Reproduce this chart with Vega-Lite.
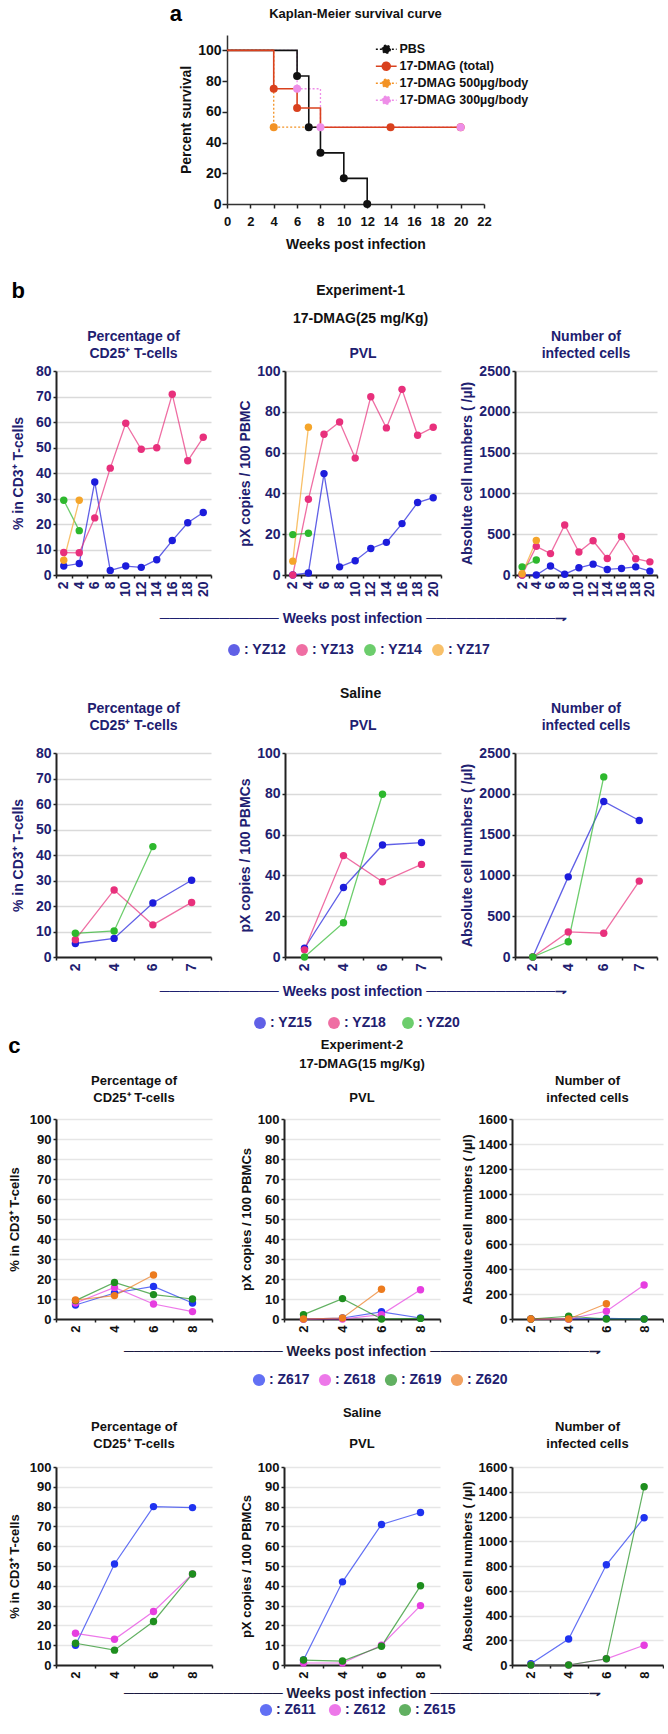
{
"$schema": "https://vega.github.io/schema/vega-lite/v6.json",
"background": "white",
"padding": {"left": 8, "top": 3, "right": 0, "bottom": 0},
"spacing": 29,
"resolve": {"scale": {"color": "independent"}, "legend": {"color": "independent"}},
"datasets": {
"km_l": [
{"g":"17-DMAG 300µg/body","t":0,"s":100},{"g":"17-DMAG 300µg/body","t":6,"s":75},{"g":"17-DMAG 300µg/body","t":8,"s":50},{"g":"17-DMAG 300µg/body","t":20,"s":50},
{"g":"17-DMAG 500µg/body","t":0,"s":100},{"g":"17-DMAG 500µg/body","t":4,"s":50},{"g":"17-DMAG 500µg/body","t":8,"s":50},
{"g":"PBS","t":0,"s":100},{"g":"PBS","t":6,"s":83.3},{"g":"PBS","t":7,"s":50},{"g":"PBS","t":8,"s":33.3},{"g":"PBS","t":10,"s":16.7},{"g":"PBS","t":12,"s":0},
{"g":"17-DMAG (total)","t":0,"s":100},{"g":"17-DMAG (total)","t":4,"s":75},{"g":"17-DMAG (total)","t":6,"s":62.5},{"g":"17-DMAG (total)","t":8,"s":50},{"g":"17-DMAG (total)","t":20,"s":50}
],
"km_p": [
{"g":"PBS","t":6,"s":83.3},{"g":"PBS","t":7,"s":50},{"g":"PBS","t":8,"s":33.3},{"g":"PBS","t":10,"s":16.7},{"g":"PBS","t":12,"s":0},
{"g":"17-DMAG (total)","t":4,"s":75},{"g":"17-DMAG (total)","t":6,"s":62.5},{"g":"17-DMAG (total)","t":14,"s":50},{"g":"17-DMAG (total)","t":20,"s":50},
{"g":"17-DMAG 500µg/body","t":4,"s":50},
{"g":"17-DMAG 300µg/body","t":6,"s":75},{"g":"17-DMAG 300µg/body","t":8,"s":50},{"g":"17-DMAG 300µg/body","t":20,"s":50}
],
"b1": [
{"m":"cd25","id":"YZ12","wk":2,"v":3.5},{"m":"cd25","id":"YZ12","wk":4,"v":4.5},{"m":"cd25","id":"YZ12","wk":6,"v":36.5},{"m":"cd25","id":"YZ12","wk":8,"v":1.8},{"m":"cd25","id":"YZ12","wk":10,"v":3.5},{"m":"cd25","id":"YZ12","wk":12,"v":3},{"m":"cd25","id":"YZ12","wk":14,"v":6},{"m":"cd25","id":"YZ12","wk":16,"v":13.5},{"m":"cd25","id":"YZ12","wk":18,"v":20.5},{"m":"cd25","id":"YZ12","wk":20,"v":24.5},
{"m":"cd25","id":"YZ13","wk":2,"v":8.8},{"m":"cd25","id":"YZ13","wk":4,"v":8.7},{"m":"cd25","id":"YZ13","wk":6,"v":22.4},{"m":"cd25","id":"YZ13","wk":8,"v":41.9},{"m":"cd25","id":"YZ13","wk":10,"v":59.5},{"m":"cd25","id":"YZ13","wk":12,"v":49.3},{"m":"cd25","id":"YZ13","wk":14,"v":49.9},{"m":"cd25","id":"YZ13","wk":16,"v":70.9},{"m":"cd25","id":"YZ13","wk":18,"v":44.8},{"m":"cd25","id":"YZ13","wk":20,"v":54},
{"m":"cd25","id":"YZ14","wk":2,"v":29.3},{"m":"cd25","id":"YZ14","wk":4,"v":17.4},
{"m":"cd25","id":"YZ17","wk":2,"v":5.8},{"m":"cd25","id":"YZ17","wk":4,"v":29.3},
{"m":"pvl","id":"YZ12","wk":2,"v":0},{"m":"pvl","id":"YZ12","wk":4,"v":1},{"m":"pvl","id":"YZ12","wk":6,"v":49.7},{"m":"pvl","id":"YZ12","wk":8,"v":4},{"m":"pvl","id":"YZ12","wk":10,"v":7},{"m":"pvl","id":"YZ12","wk":12,"v":13},{"m":"pvl","id":"YZ12","wk":14,"v":16},{"m":"pvl","id":"YZ12","wk":16,"v":25.2},{"m":"pvl","id":"YZ12","wk":18,"v":35.5},{"m":"pvl","id":"YZ12","wk":20,"v":37.9},
{"m":"pvl","id":"YZ13","wk":2,"v":0},{"m":"pvl","id":"YZ13","wk":4,"v":37.1},{"m":"pvl","id":"YZ13","wk":6,"v":69},{"m":"pvl","id":"YZ13","wk":8,"v":75},{"m":"pvl","id":"YZ13","wk":10,"v":57.3},{"m":"pvl","id":"YZ13","wk":12,"v":87.4},{"m":"pvl","id":"YZ13","wk":14,"v":72.1},{"m":"pvl","id":"YZ13","wk":16,"v":91},{"m":"pvl","id":"YZ13","wk":18,"v":68.5},{"m":"pvl","id":"YZ13","wk":20,"v":72.4},
{"m":"pvl","id":"YZ14","wk":2,"v":19.8},{"m":"pvl","id":"YZ14","wk":4,"v":20.5},
{"m":"pvl","id":"YZ17","wk":2,"v":6.8},{"m":"pvl","id":"YZ17","wk":4,"v":72.4},
{"m":"inf","id":"YZ12","wk":2,"v":0},{"m":"inf","id":"YZ12","wk":4,"v":0},{"m":"inf","id":"YZ12","wk":6,"v":110},{"m":"inf","id":"YZ12","wk":8,"v":10},{"m":"inf","id":"YZ12","wk":10,"v":88},{"m":"inf","id":"YZ12","wk":12,"v":133},{"m":"inf","id":"YZ12","wk":14,"v":68},{"m":"inf","id":"YZ12","wk":16,"v":80},{"m":"inf","id":"YZ12","wk":18,"v":100},{"m":"inf","id":"YZ12","wk":20,"v":48},
{"m":"inf","id":"YZ13","wk":2,"v":0},{"m":"inf","id":"YZ13","wk":4,"v":351},{"m":"inf","id":"YZ13","wk":6,"v":262},{"m":"inf","id":"YZ13","wk":8,"v":613},{"m":"inf","id":"YZ13","wk":10,"v":282},{"m":"inf","id":"YZ13","wk":12,"v":420},{"m":"inf","id":"YZ13","wk":14,"v":202},{"m":"inf","id":"YZ13","wk":16,"v":472},{"m":"inf","id":"YZ13","wk":18,"v":200},{"m":"inf","id":"YZ13","wk":20,"v":161},
{"m":"inf","id":"YZ14","wk":2,"v":100},{"m":"inf","id":"YZ14","wk":4,"v":183},
{"m":"inf","id":"YZ17","wk":2,"v":15},{"m":"inf","id":"YZ17","wk":4,"v":424}
],
"b2": [
{"m":"cd25","id":"YZ15","wk":2,"v":5.3},{"m":"cd25","id":"YZ15","wk":4,"v":7.3},{"m":"cd25","id":"YZ15","wk":6,"v":21.2},{"m":"cd25","id":"YZ15","wk":7,"v":30.1},
{"m":"cd25","id":"YZ18","wk":2,"v":6.8},{"m":"cd25","id":"YZ18","wk":4,"v":26.3},{"m":"cd25","id":"YZ18","wk":6,"v":12.6},{"m":"cd25","id":"YZ18","wk":7,"v":21.4},
{"m":"cd25","id":"YZ20","wk":2,"v":9.3},{"m":"cd25","id":"YZ20","wk":4,"v":10.2},{"m":"cd25","id":"YZ20","wk":6,"v":43.3},
{"m":"pvl","id":"YZ15","wk":2,"v":4.3},{"m":"pvl","id":"YZ15","wk":4,"v":34.1},{"m":"pvl","id":"YZ15","wk":6,"v":54.9},{"m":"pvl","id":"YZ15","wk":7,"v":56.1},
{"m":"pvl","id":"YZ18","wk":2,"v":3.5},{"m":"pvl","id":"YZ18","wk":4,"v":49.7},{"m":"pvl","id":"YZ18","wk":6,"v":36.9},{"m":"pvl","id":"YZ18","wk":7,"v":45.4},
{"m":"pvl","id":"YZ20","wk":2,"v":0},{"m":"pvl","id":"YZ20","wk":4,"v":16.8},{"m":"pvl","id":"YZ20","wk":6,"v":79.8},
{"m":"inf","id":"YZ15","wk":2,"v":0},{"m":"inf","id":"YZ15","wk":4,"v":982},{"m":"inf","id":"YZ15","wk":6,"v":1906},{"m":"inf","id":"YZ15","wk":7,"v":1673},
{"m":"inf","id":"YZ18","wk":2,"v":0},{"m":"inf","id":"YZ18","wk":4,"v":307},{"m":"inf","id":"YZ18","wk":6,"v":291},{"m":"inf","id":"YZ18","wk":7,"v":930},
{"m":"inf","id":"YZ20","wk":2,"v":0},{"m":"inf","id":"YZ20","wk":4,"v":187},{"m":"inf","id":"YZ20","wk":6,"v":2207}
],
"c1": [
{"m":"cd25","id":"Z617","wk":2,"v":7},{"m":"cd25","id":"Z617","wk":4,"v":13},{"m":"cd25","id":"Z617","wk":6,"v":16.3},{"m":"cd25","id":"Z617","wk":8,"v":8},
{"m":"cd25","id":"Z618","wk":2,"v":8},{"m":"cd25","id":"Z618","wk":4,"v":15.8},{"m":"cd25","id":"Z618","wk":6,"v":7.5},{"m":"cd25","id":"Z618","wk":8,"v":3.7},
{"m":"cd25","id":"Z619","wk":2,"v":9.2},{"m":"cd25","id":"Z619","wk":4,"v":18.3},{"m":"cd25","id":"Z619","wk":6,"v":12.2},{"m":"cd25","id":"Z619","wk":8,"v":10},
{"m":"cd25","id":"Z620","wk":2,"v":9.5},{"m":"cd25","id":"Z620","wk":4,"v":11.7},{"m":"cd25","id":"Z620","wk":6,"v":22},
{"m":"pvl","id":"Z617","wk":2,"v":0},{"m":"pvl","id":"Z617","wk":4,"v":0.5},{"m":"pvl","id":"Z617","wk":6,"v":3.6},{"m":"pvl","id":"Z617","wk":8,"v":0.5},
{"m":"pvl","id":"Z618","wk":2,"v":0},{"m":"pvl","id":"Z618","wk":4,"v":0},{"m":"pvl","id":"Z618","wk":6,"v":2.2},{"m":"pvl","id":"Z618","wk":8,"v":14.6},
{"m":"pvl","id":"Z619","wk":2,"v":2.2},{"m":"pvl","id":"Z619","wk":4,"v":10.2},{"m":"pvl","id":"Z619","wk":6,"v":0},{"m":"pvl","id":"Z619","wk":8,"v":0.3},
{"m":"pvl","id":"Z620","wk":2,"v":0},{"m":"pvl","id":"Z620","wk":4,"v":0.5},{"m":"pvl","id":"Z620","wk":6,"v":14.9},
{"m":"inf","id":"Z617","wk":2,"v":0},{"m":"inf","id":"Z617","wk":4,"v":0},{"m":"inf","id":"Z617","wk":6,"v":5},{"m":"inf","id":"Z617","wk":8,"v":0},
{"m":"inf","id":"Z618","wk":2,"v":0},{"m":"inf","id":"Z618","wk":4,"v":0},{"m":"inf","id":"Z618","wk":6,"v":62},{"m":"inf","id":"Z618","wk":8,"v":272},
{"m":"inf","id":"Z619","wk":2,"v":0},{"m":"inf","id":"Z619","wk":4,"v":22},{"m":"inf","id":"Z619","wk":6,"v":0},{"m":"inf","id":"Z619","wk":8,"v":0},
{"m":"inf","id":"Z620","wk":2,"v":0},{"m":"inf","id":"Z620","wk":4,"v":0},{"m":"inf","id":"Z620","wk":6,"v":122}
],
"c2": [
{"m":"cd25","id":"Z611","wk":2,"v":10},{"m":"cd25","id":"Z611","wk":4,"v":51},{"m":"cd25","id":"Z611","wk":6,"v":80},{"m":"cd25","id":"Z611","wk":8,"v":79.5},
{"m":"cd25","id":"Z612","wk":2,"v":16},{"m":"cd25","id":"Z612","wk":4,"v":13},{"m":"cd25","id":"Z612","wk":6,"v":27},{"m":"cd25","id":"Z612","wk":8,"v":46},
{"m":"cd25","id":"Z615","wk":2,"v":11},{"m":"cd25","id":"Z615","wk":4,"v":7.5},{"m":"cd25","id":"Z615","wk":6,"v":22},{"m":"cd25","id":"Z615","wk":8,"v":46},
{"m":"pvl","id":"Z611","wk":2,"v":2.5},{"m":"pvl","id":"Z611","wk":4,"v":42},{"m":"pvl","id":"Z611","wk":6,"v":71},{"m":"pvl","id":"Z611","wk":8,"v":77},
{"m":"pvl","id":"Z612","wk":2,"v":1},{"m":"pvl","id":"Z612","wk":4,"v":1},{"m":"pvl","id":"Z612","wk":6,"v":10},{"m":"pvl","id":"Z612","wk":8,"v":30},
{"m":"pvl","id":"Z615","wk":2,"v":2.5},{"m":"pvl","id":"Z615","wk":4,"v":2},{"m":"pvl","id":"Z615","wk":6,"v":9.5},{"m":"pvl","id":"Z615","wk":8,"v":40},
{"m":"inf","id":"Z611","wk":2,"v":10},{"m":"inf","id":"Z611","wk":4,"v":210},{"m":"inf","id":"Z611","wk":6,"v":810},{"m":"inf","id":"Z611","wk":8,"v":1190},
{"m":"inf","id":"Z612","wk":2,"v":0},{"m":"inf","id":"Z612","wk":4,"v":0},{"m":"inf","id":"Z612","wk":6,"v":50},{"m":"inf","id":"Z612","wk":8,"v":160},
{"m":"inf","id":"Z615","wk":2,"v":0},{"m":"inf","id":"Z615","wk":4,"v":0},{"m":"inf","id":"Z615","wk":6,"v":50},{"m":"inf","id":"Z615","wk":8,"v":1440}
]
},
"vconcat": [
{
"spacing": 0,
"resolve": {"scale": {"color": "independent"}, "legend": {"color": "independent"}},
"hconcat": [
{"width": 113, "height": 10, "view": {"fill": "white", "stroke": null}, "data": {"values": []}, "mark": "point"},
{
"title": {"text": "a", "anchor": "start", "frame": "bounds", "fontSize": 22, "color": "#000000", "offset": -18, "dx": -10},
"resolve": {"scale": {"color": "independent"}, "legend": {"color": "independent"}},
"vconcat": [
{
"width": 257, "height": 169,
"title": {"text": "Kaplan-Meier survival curve", "color": "#111111", "fontSize": 13, "offset": 14, "frame": "group", "anchor": "middle"},
"encoding": {
"x": {"field": "t", "type": "quantitative", "scale": {"domain": [0, 22], "nice": false},
 "axis": {"title": "Weeks post infection", "values": [0,2,4,6,8,10,12,14,16,18,20,22], "labelAngle": 0, "labelFlush": false, "labelOverlap": false, "labelColor": "#111111", "titleColor": "#111111", "labelFontSize": 13, "titleFontSize": 14, "tickSize": 4, "labelPadding": 7, "titlePadding": 9, "grid": false, "domainWidth": 1.5, "domainColor": "#333333"}},
"y": {"field": "s", "type": "quantitative", "scale": {"domain": [0, 110], "nice": false},
 "axis": {"title": "Percent survival", "values": [0,20,40,60,80,100], "labelOverlap": false, "grid": false, "labelColor": "#111111", "titleColor": "#111111", "labelFontSize": 14, "titleFontSize": 14, "tickSize": 5, "labelPadding": 1, "titlePadding": 4, "domainWidth": 1.5, "domainColor": "#333333"}},
"color": {"field": "g", "type": "nominal", "scale": {"domain": ["PBS", "17-DMAG (total)", "17-DMAG 500µg/body", "17-DMAG 300µg/body"], "range": ["#111111", "#d9411e", "#f39224", "#ee8ee8"]},
 "legend": {"orient": "none", "legendX": 153, "legendY": 8, "title": null, "direction": "vertical",
  "symbolType": "M-2.6,0H2.6M1,0A1,1 0 1 1 -1,0A1,1 0 1 1 1,0", "symbolSize": 64, "labelOffset": 7, "rowPadding": 2,
  "labelFontSize": 12.5, "labelFontWeight": "bold", "labelColor": "#111111", "labelFont": "Liberation Sans",
  "encode": {
   "symbols": {"update": {
   "fill": [{"test": "datum.value === 'PBS'", "value": "#111111"}, {"test": "datum.value === '17-DMAG (total)'", "value": "#d9411e"}, {"test": "datum.value === '17-DMAG 500µg/body'", "value": "#f39224"}, {"value": "#ee8ee8"}],
   "stroke": [{"test": "datum.value === 'PBS'", "value": "#666666"}, {"test": "datum.value === '17-DMAG (total)'", "value": "#d9411e"}, {"test": "datum.value === '17-DMAG 500µg/body'", "value": "#f39224"}, {"value": "#ee8ee8"}],
   "strokeWidth": {"value": 1.5},
   "opacity": {"value": 1}, "fillOpacity": {"value": 1}, "strokeOpacity": {"value": 1},
   "strokeDash": [{"test": "datum.value === '17-DMAG (total)'", "value": [1,0]}, {"value": [2,2]}]
  }}}}}
},
"layer": [
{
"data": {"name": "km_l"},
"transform": [{"filter": "datum.g === '17-DMAG 300µg/body' || datum.g === '17-DMAG 500µg/body'"}],
"mark": {"type": "line", "interpolate": "step-after", "strokeWidth": 1.3, "strokeDash": [2, 2]}
},
{
"data": {"name": "km_l"},
"transform": [{"filter": "datum.g === 'PBS' || datum.g === '17-DMAG (total)'"}],
"mark": {"type": "line", "interpolate": "step-after", "strokeWidth": 1.6}
},
{
"data": {"name": "km_p"},
"mark": {"type": "circle", "size": 64, "opacity": 1}
}
]
}
]
}
]
},
{
"spacing": 5,
"vconcat": [
{
"title": {"text": "b", "anchor": "start", "frame": "bounds", "fontSize": 22, "color": "#000000", "offset": -19},
"spacing": 30,
"vconcat": [
{
"title": {"text": "Experiment-1", "subtitle": "17-DMAG(25 mg/Kg)", "color": "#111111", "fontSize": 14, "subtitleColor": "#111111", "subtitleFontSize": 14, "subtitleFontWeight": "bold", "subtitlePadding": 14, "frame": "bounds", "anchor": "middle", "offset": 4, "dx": 26},
"spacing": 74, "bounds": "flush",
"resolve": {"scale": {"color": "independent"}, "legend": {"color": "independent"}},
"hconcat": [
{
"width": 155, "height": 204,
"title": {"text": ["Percentage of", "CD25⁺ T-cells"], "offset": 3, "frame": "group"},
"data": {"name": "b1"},
"transform": [{"filter": "datum.m === 'cd25'"}],
"encoding": {
"x": {"field": "wk", "type": "ordinal", "scale": {"type": "band", "paddingInner": 0, "paddingOuter": 0, "domain": [2,4,6,8,10,12,14,16,18,20]}, "axis": {"title": null, "labelAngle": 270, "tickBand": "extent", "grid": false}},
"y": {"field": "v", "type": "quantitative", "scale": {"domain": [0, 80], "nice": false}, "axis": {"title": "% in CD3⁺ T-cells", "values": [0,10,20,30,40,50,60,70,80], "titlePadding": 10}},
"color": {"field": "id", "type": "nominal", "scale": {"domain": ["YZ12","YZ13","YZ14","YZ17"], "range": ["#1c1cdc","#e8307c","#2db82d","#f5a52a"]}, "legend": null}
},
"layer": [
{"mark": {"type": "line", "strokeWidth": 1.3, "opacity": 0.7}},
{"mark": {"type": "circle", "size": 55, "opacity": 1}}
]
},
{
"width": 156, "height": 204,
"title": {"text": "PVL", "offset": 3, "frame": "group"},
"data": {"name": "b1"},
"transform": [{"filter": "datum.m === 'pvl'"}],
"encoding": {
"x": {"field": "wk", "type": "ordinal", "scale": {"type": "band", "paddingInner": 0, "paddingOuter": 0, "domain": [2,4,6,8,10,12,14,16,18,20]}, "axis": {"title": "────────────  Weeks post infection  ─────────────⇁", "titlePadding": 15, "labelAngle": 270, "tickBand": "extent", "grid": false}},
"y": {"field": "v", "type": "quantitative", "scale": {"domain": [0, 100], "nice": false}, "axis": {"title": "pX copies / 100 PBMC", "values": [0,20,40,60,80,100], "titlePadding": 4}},
"color": {"field": "id", "type": "nominal", "scale": {"domain": ["YZ12","YZ13","YZ14","YZ17"], "range": ["#1c1cdc","#e8307c","#2db82d","#f5a52a"]},
 "legend": {"orient": "none", "legendX": -58, "legendY": 272, "direction": "horizontal", "title": null, "symbolType": "circle", "symbolSize": 140, "symbolStrokeWidth": 0, "labelExpr": "': ' + datum.label", "labelFontSize": 14, "labelFontWeight": "bold", "labelColor": "#1e2070", "labelFont": "Liberation Sans", "columnPadding": 8, "labelOffset": 3,
  "encode": {"symbols": {"update": {"fill": [{"test": "datum.value === 'YZ12'", "value": "#1010e0"}, {"test": "datum.value === 'YZ13'", "value": "#e040d8"}, {"test": "datum.value === 'YZ14'", "value": "#1a8a1a"}, {"value": "#e87a14"}], "stroke": {"value": "transparent"}, "opacity": {"value": 1}, "fillOpacity": {"value": 1}}}}}}
},
"layer": [
{"mark": {"type": "line", "strokeWidth": 1.3, "opacity": 0.7}},
{"mark": {"type": "circle", "size": 55, "opacity": 1}}
]
},
{
"width": 142, "height": 204,
"title": {"text": ["Number of", "infected cells"], "offset": 3, "frame": "group"},
"data": {"name": "b1"},
"transform": [{"filter": "datum.m === 'inf'"}],
"encoding": {
"x": {"field": "wk", "type": "ordinal", "scale": {"type": "band", "paddingInner": 0, "paddingOuter": 0, "domain": [2,4,6,8,10,12,14,16,18,20]}, "axis": {"title": null, "labelAngle": 270, "tickBand": "extent", "grid": false}},
"y": {"field": "v", "type": "quantitative", "scale": {"domain": [0, 2500], "nice": false}, "axis": {"title": "Absolute cell numbers ( /µl)", "values": [0,500,1000,1500,2000,2500], "format": "d", "titlePadding": 4}},
"color": {"field": "id", "type": "nominal", "scale": {"domain": ["YZ12","YZ13","YZ14","YZ17"], "range": ["#1c1cdc","#e8307c","#2db82d","#f5a52a"]}, "legend": null}
},
"layer": [
{"mark": {"type": "line", "strokeWidth": 1.3, "opacity": 0.7}},
{"mark": {"type": "circle", "size": 55, "opacity": 1}}
]
}
]
},
{
"title": {"text": "Saline", "color": "#111111", "fontSize": 14, "frame": "bounds", "anchor": "middle", "offset": 1, "dx": 26},
"spacing": 74, "bounds": "flush",
"resolve": {"scale": {"color": "independent"}, "legend": {"color": "independent"}},
"hconcat": [
{
"width": 155, "height": 204,
"title": {"text": ["Percentage of", "CD25⁺ T-cells"], "offset": 13, "frame": "group"},
"data": {"name": "b2"},
"transform": [{"filter": "datum.m === 'cd25'"}],
"encoding": {
"x": {"field": "wk", "type": "ordinal", "scale": {"type": "band", "paddingInner": 0, "paddingOuter": 0, "domain": [2,4,6,7]}, "axis": {"title": null, "labelAngle": 270, "tickBand": "extent", "grid": false}},
"y": {"field": "v", "type": "quantitative", "scale": {"domain": [0, 80], "nice": false}, "axis": {"title": "% in CD3⁺ T-cells", "values": [0,10,20,30,40,50,60,70,80], "titlePadding": 10}},
"color": {"field": "id", "type": "nominal", "scale": {"domain": ["YZ15","YZ18","YZ20"], "range": ["#1c1cdc","#e8307c","#2db82d"]}, "legend": null}
},
"layer": [
{"mark": {"type": "line", "strokeWidth": 1.3, "opacity": 0.7}},
{"mark": {"type": "circle", "size": 55, "opacity": 1}}
]
},
{
"width": 156, "height": 204,
"title": {"text": "PVL", "offset": 13, "frame": "group"},
"data": {"name": "b2"},
"transform": [{"filter": "datum.m === 'pvl'"}],
"encoding": {
"x": {"field": "wk", "type": "ordinal", "scale": {"type": "band", "paddingInner": 0, "paddingOuter": 0, "domain": [2,4,6,7]}, "axis": {"title": "────────────  Weeks post infection  ─────────────⇁", "titlePadding": 14, "labelAngle": 270, "tickBand": "extent", "grid": false}},
"y": {"field": "v", "type": "quantitative", "scale": {"domain": [0, 100], "nice": false}, "axis": {"title": "pX copies / 100 PBMCs", "values": [0,20,40,60,80,100], "titlePadding": 4}},
"color": {"field": "id", "type": "nominal", "scale": {"domain": ["YZ15","YZ18","YZ20"], "range": ["#1c1cdc","#e8307c","#2db82d"]},
 "legend": {"orient": "none", "legendX": -32, "legendY": 263, "direction": "horizontal", "title": null, "symbolType": "circle", "symbolSize": 140, "symbolStrokeWidth": 0, "labelExpr": "': ' + datum.label", "labelFontSize": 14, "labelFontWeight": "bold", "labelColor": "#1e2070", "labelFont": "Liberation Sans", "columnPadding": 14, "labelOffset": 3,
  "encode": {"symbols": {"update": {"fill": [{"test": "datum.value === 'YZ15'", "value": "#1010e0"}, {"test": "datum.value === 'YZ18'", "value": "#e040d8"}, {"value": "#1a8a1a"}], "stroke": {"value": "transparent"}, "opacity": {"value": 1}, "fillOpacity": {"value": 1}}}}}}
},
"layer": [
{"mark": {"type": "line", "strokeWidth": 1.3, "opacity": 0.7}},
{"mark": {"type": "circle", "size": 55, "opacity": 1}}
]
},
{
"width": 142, "height": 204,
"title": {"text": ["Number of", "infected cells"], "offset": 13, "frame": "group"},
"data": {"name": "b2"},
"transform": [{"filter": "datum.m === 'inf'"}],
"encoding": {
"x": {"field": "wk", "type": "ordinal", "scale": {"type": "band", "paddingInner": 0, "paddingOuter": 0, "domain": [2,4,6,7]}, "axis": {"title": null, "labelAngle": 270, "tickBand": "extent", "grid": false}},
"y": {"field": "v", "type": "quantitative", "scale": {"domain": [0, 2500], "nice": false}, "axis": {"title": "Absolute cell numbers ( /µl)", "values": [0,500,1000,1500,2000,2500], "format": "d", "titlePadding": 4}},
"color": {"field": "id", "type": "nominal", "scale": {"domain": ["YZ15","YZ18","YZ20"], "range": ["#1c1cdc","#e8307c","#2db82d"]}, "legend": null}
},
"layer": [
{"mark": {"type": "line", "strokeWidth": 1.3, "opacity": 0.7}},
{"mark": {"type": "circle", "size": 55, "opacity": 1}}
]
}
]
}
]
},
{
"title": {"text": "c", "anchor": "start", "frame": "bounds", "fontSize": 22, "color": "#000000", "offset": -19},
"spacing": 20,
"vconcat": [
{
"title": {"text": "Experiment-2", "subtitle": "17-DMAG(15 mg/Kg)", "color": "#111111", "fontSize": 13, "subtitleColor": "#111111", "subtitleFontSize": 13, "subtitleFontWeight": "bold", "subtitlePadding": 6, "frame": "bounds", "anchor": "middle", "offset": 4, "dx": 26},
"spacing": 72, "bounds": "flush",
"resolve": {"scale": {"color": "independent"}, "legend": {"color": "independent"}},
"hconcat": [
{
"width": 156, "height": 200,
"title": {"text": ["Percentage of", "CD25⁺ T-cells"], "offset": 8, "color": "#111111", "fontSize": 13, "frame": "group"},
"data": {"name": "c1"},
"transform": [{"filter": "datum.m === 'cd25'"}],
"encoding": {
"x": {"field": "wk", "type": "ordinal", "scale": {"type": "band", "paddingInner": 0, "paddingOuter": 0, "domain": [2,4,6,8]}, "axis": {"title": null, "labelAngle": 270, "tickBand": "extent", "grid": false, "labelColor": "#111111", "labelFontSize": 13}},
"y": {"field": "v", "type": "quantitative", "scale": {"domain": [0, 100], "nice": false}, "axis": {"title": "% in CD3⁺ T-cells", "values": [0,10,20,30,40,50,60,70,80,90,100], "titlePadding": 8, "labelColor": "#111111", "titleColor": "#111111", "labelFontSize": 13, "titleFontSize": 13, "gridColor": "#e6e6e6"}},
"color": {"field": "id", "type": "nominal", "scale": {"domain": ["Z617","Z618","Z619","Z620"], "range": ["#1f33f0","#e63ee0","#1e8e1e","#ec7b1e"]}, "legend": null}
},
"layer": [
{"mark": {"type": "line", "strokeWidth": 1.2, "opacity": 0.7}},
{"mark": {"type": "circle", "size": 55, "opacity": 1}}
]
},
{
"width": 156, "height": 200,
"title": {"text": "PVL", "offset": 8, "color": "#111111", "fontSize": 13, "frame": "group"},
"data": {"name": "c1"},
"transform": [{"filter": "datum.m === 'pvl'"}],
"encoding": {
"x": {"field": "wk", "type": "ordinal", "scale": {"type": "band", "paddingInner": 0, "paddingOuter": 0, "domain": [2,4,6,8]}, "axis": {"title": "────────────────  Weeks post infection  ────────────────⇁", "titlePadding": 12, "titleColor": "#1a1a40", "labelAngle": 270, "tickBand": "extent", "grid": false, "labelColor": "#111111", "labelFontSize": 13}},
"y": {"field": "v", "type": "quantitative", "scale": {"domain": [0, 100], "nice": false}, "axis": {"title": "pX copies / 100 PBMCs", "values": [0,10,20,30,40,50,60,70,80,90,100], "titlePadding": 4, "labelColor": "#111111", "titleColor": "#111111", "labelFontSize": 13, "titleFontSize": 13, "gridColor": "#e6e6e6"}},
"color": {"field": "id", "type": "nominal", "scale": {"domain": ["Z617","Z618","Z619","Z620"], "range": ["#1f33f0","#e63ee0","#1e8e1e","#ec7b1e"]},
 "legend": {"orient": "none", "legendX": -32, "legendY": 254, "direction": "horizontal", "title": null, "symbolType": "circle", "symbolSize": 150, "symbolStrokeWidth": 0, "labelExpr": "': ' + datum.label", "labelFontSize": 14, "labelFontWeight": "bold", "labelColor": "#1e2070", "labelFont": "Liberation Sans", "columnPadding": 8, "labelOffset": 3,
  "encode": {"symbols": {"update": {"fill": [{"test": "datum.value === 'Z617'", "value": "#1f33f0"}, {"test": "datum.value === 'Z618'", "value": "#e63ee0"}, {"test": "datum.value === 'Z619'", "value": "#1e8e1e"}, {"value": "#ec7b1e"}], "stroke": {"value": "transparent"}, "opacity": {"value": 1}, "fillOpacity": {"value": 1}}}}}}
},
"layer": [
{"mark": {"type": "line", "strokeWidth": 1.2, "opacity": 0.7}},
{"mark": {"type": "circle", "size": 55, "opacity": 1}}
]
},
{
"width": 151, "height": 200,
"title": {"text": ["Number of", "infected cells"], "offset": 8, "color": "#111111", "fontSize": 13, "frame": "group"},
"data": {"name": "c1"},
"transform": [{"filter": "datum.m === 'inf'"}],
"encoding": {
"x": {"field": "wk", "type": "ordinal", "scale": {"type": "band", "paddingInner": 0, "paddingOuter": 0, "domain": [2,4,6,8]}, "axis": {"title": null, "labelAngle": 270, "tickBand": "extent", "grid": false, "labelColor": "#111111", "labelFontSize": 13}},
"y": {"field": "v", "type": "quantitative", "scale": {"domain": [0, 1600], "nice": false}, "axis": {"title": "Absolute cell numbers ( /µl)", "values": [0,200,400,600,800,1000,1200,1400,1600], "format": "d", "titlePadding": 4, "labelColor": "#111111", "titleColor": "#111111", "labelFontSize": 13, "titleFontSize": 13, "gridColor": "#e6e6e6"}},
"color": {"field": "id", "type": "nominal", "scale": {"domain": ["Z617","Z618","Z619","Z620"], "range": ["#1f33f0","#e63ee0","#1e8e1e","#ec7b1e"]}, "legend": null}
},
"layer": [
{"mark": {"type": "line", "strokeWidth": 1.2, "opacity": 0.7}},
{"mark": {"type": "circle", "size": 55, "opacity": 1}}
]
}
]
},
{
"title": {"text": "Saline", "color": "#111111", "fontSize": 13, "frame": "bounds", "anchor": "middle", "offset": 1, "dx": 26},
"spacing": 72, "bounds": "flush",
"resolve": {"scale": {"color": "independent"}, "legend": {"color": "independent"}},
"hconcat": [
{
"width": 156, "height": 198,
"title": {"text": ["Percentage of", "CD25⁺ T-cells"], "offset": 10, "color": "#111111", "fontSize": 13, "frame": "group"},
"data": {"name": "c2"},
"transform": [{"filter": "datum.m === 'cd25'"}],
"encoding": {
"x": {"field": "wk", "type": "ordinal", "scale": {"type": "band", "paddingInner": 0, "paddingOuter": 0, "domain": [2,4,6,8]}, "axis": {"title": null, "labelAngle": 270, "tickBand": "extent", "grid": false, "labelColor": "#111111", "labelFontSize": 13}},
"y": {"field": "v", "type": "quantitative", "scale": {"domain": [0, 100], "nice": false}, "axis": {"title": "% in CD3⁺ T-cells", "values": [0,10,20,30,40,50,60,70,80,90,100], "titlePadding": 8, "labelColor": "#111111", "titleColor": "#111111", "labelFontSize": 13, "titleFontSize": 13, "gridColor": "#e6e6e6"}},
"color": {"field": "id", "type": "nominal", "scale": {"domain": ["Z611","Z612","Z615"], "range": ["#1f33f0","#e63ee0","#1e8e1e"]}, "legend": null}
},
"layer": [
{"mark": {"type": "line", "strokeWidth": 1.2, "opacity": 0.7}},
{"mark": {"type": "circle", "size": 55, "opacity": 1}}
]
},
{
"width": 156, "height": 198,
"title": {"text": "PVL", "offset": 10, "color": "#111111", "fontSize": 13, "frame": "group"},
"data": {"name": "c2"},
"transform": [{"filter": "datum.m === 'pvl'"}],
"encoding": {
"x": {"field": "wk", "type": "ordinal", "scale": {"type": "band", "paddingInner": 0, "paddingOuter": 0, "domain": [2,4,6,8]}, "axis": {"title": "────────────────  Weeks post infection  ────────────────⇁", "titlePadding": 8, "titleColor": "#1a1a40", "labelAngle": 270, "tickBand": "extent", "grid": false, "labelColor": "#111111", "labelFontSize": 13}},
"y": {"field": "v", "type": "quantitative", "scale": {"domain": [0, 100], "nice": false}, "axis": {"title": "pX copies / 100 PBMCs", "values": [0,10,20,30,40,50,60,70,80,90,100], "titlePadding": 4, "labelColor": "#111111", "titleColor": "#111111", "labelFontSize": 13, "titleFontSize": 13, "gridColor": "#e6e6e6"}},
"color": {"field": "id", "type": "nominal", "scale": {"domain": ["Z611","Z612","Z615"], "range": ["#1f33f0","#e63ee0","#1e8e1e"]},
 "legend": {"orient": "none", "legendX": -25, "legendY": 236, "direction": "horizontal", "title": null, "symbolType": "circle", "symbolSize": 150, "symbolStrokeWidth": 0, "labelExpr": "': ' + datum.label", "labelFontSize": 14, "labelFontWeight": "bold", "labelColor": "#1e2070", "labelFont": "Liberation Sans", "columnPadding": 12, "labelOffset": 3,
  "encode": {"symbols": {"update": {"fill": [{"test": "datum.value === 'Z611'", "value": "#1f33f0"}, {"test": "datum.value === 'Z612'", "value": "#e63ee0"}, {"value": "#1e8e1e"}], "stroke": {"value": "transparent"}, "opacity": {"value": 1}, "fillOpacity": {"value": 1}}}}}}
},
"layer": [
{"mark": {"type": "line", "strokeWidth": 1.2, "opacity": 0.7}},
{"mark": {"type": "circle", "size": 55, "opacity": 1}}
]
},
{
"width": 151, "height": 198,
"title": {"text": ["Number of", "infected cells"], "offset": 10, "color": "#111111", "fontSize": 13, "frame": "group"},
"data": {"name": "c2"},
"transform": [{"filter": "datum.m === 'inf'"}],
"encoding": {
"x": {"field": "wk", "type": "ordinal", "scale": {"type": "band", "paddingInner": 0, "paddingOuter": 0, "domain": [2,4,6,8]}, "axis": {"title": null, "labelAngle": 270, "tickBand": "extent", "grid": false, "labelColor": "#111111", "labelFontSize": 13}},
"y": {"field": "v", "type": "quantitative", "scale": {"domain": [0, 1600], "nice": false}, "axis": {"title": "Absolute cell numbers ( /µl)", "values": [0,200,400,600,800,1000,1200,1400,1600], "format": "d", "titlePadding": 4, "labelColor": "#111111", "titleColor": "#111111", "labelFontSize": 13, "titleFontSize": 13, "gridColor": "#e6e6e6"}},
"color": {"field": "id", "type": "nominal", "scale": {"domain": ["Z611","Z612","Z615"], "range": ["#1f33f0","#e63ee0","#1e8e1e"]}, "legend": null}
},
"layer": [
{"mark": {"type": "line", "strokeWidth": 1.2, "opacity": 0.7}},
{"mark": {"type": "circle", "size": 55, "opacity": 1}}
]
}
]
}
]
}
]
}
],
"config": {
"font": "Liberation Sans",
"view": {"stroke": null},
"axis": {
"labelFont": "Liberation Sans", "labelFontWeight": "bold", "labelFontSize": 14, "labelColor": "#1e2070",
"titleFont": "Liberation Sans", "titleFontWeight": "bold", "titleFontSize": 14, "titleColor": "#1e2070",
"domainColor": "#222222", "domainWidth": 2, "tickColor": "#222222", "tickWidth": 1.5, "tickSize": 3, "labelPadding": 2,
"gridColor": "#dadada", "gridWidth": 1.5
},
"axisY": {"grid": true},
"axisX": {"grid": false, "labelPadding": 3},
"title": {"font": "Liberation Sans", "fontWeight": "bold", "fontSize": 14, "color": "#1e2070", "anchor": "middle", "frame": "group", "lineHeight": 17, "subtitleFont": "Liberation Sans"}
}
}
